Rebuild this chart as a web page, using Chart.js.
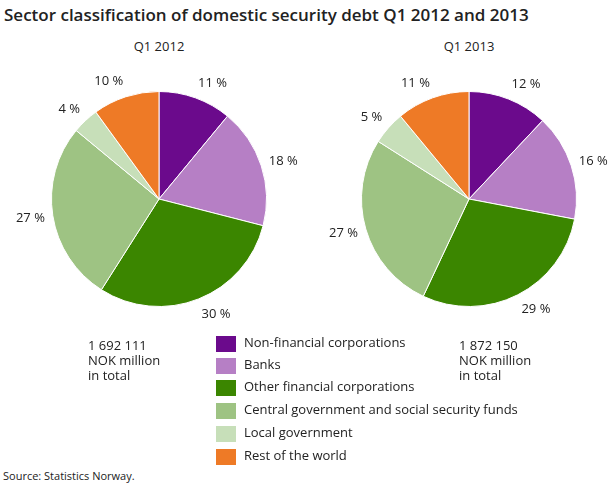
<!DOCTYPE html>
<html>
<head>
<meta charset="utf-8">
<script src="https://cdn.jsdelivr.net/npm/chart.js@4"></script>
<style>
body { margin:0; width:610px; height:488px; font-family:"Open Sans", sans-serif; color:#222; position:relative; background:#fff; }
.abs { position:absolute; }
#title { left:4px; top:3px; font-size:17px; font-weight:600; }
.sub { font-size:13px; width:200px; text-align:center; top:37px; }
.tot { font-size:13px; line-height:15px; top:338px; }
.leg { left:216px; font-size:13px; }
.leg span.box { display:inline-block; width:20px; height:16px; vertical-align:middle; margin-right:8px; }
#src { left:3px; top:468px; font-size:11px; }
canvas { position:absolute; }
</style>
</head>
<body>
<div id="title" class="abs">Sector classification of domestic security debt Q1 2012 and 2013</div>
<div class="abs sub" style="left:59px">Q1 2012</div>
<div class="abs sub" style="left:369px">Q1 2013</div>
<div style="position:absolute;left:9px;top:49px;width:300px;height:300px"><canvas id="c1"></canvas></div>
<div style="position:absolute;left:319px;top:49px;width:300px;height:300px"><canvas id="c2"></canvas></div>
<div class="abs tot" style="left:88px">1 692 111<br>NOK million<br>in total</div>
<div class="abs tot" style="left:459px">1 872 150<br>NOK million<br>in total</div>
<div id="legend"></div>
<div id="src" class="abs">Source: Statistics Norway.</div>
<script>
const sectors = ['Non-financial corporations', 'Banks', 'Other financial corporations',
  'Central government and social security funds', 'Local government', 'Rest of the world'];
const share2012 = [11, 18, 30, 27, 4, 10];
const share2013 = [12, 16, 29, 27, 5, 11];
const colours = ['#6b0a8c', '#b67fc5', '#3b8600', '#9ec383', '#c7dfb9', '#ee7a26'];

// legend in html
var legTop = [333, 355, 377, 400, 423, 446];
var legend = document.getElementById('legend');
sectors.forEach(function (s, i) {
    var d = document.createElement('div');
    d.className = 'abs leg';
    d.style.top = legTop[i] + 'px';
    d.innerHTML = '<span class="box" style="background:' + colours[i] + '"></span>' + s;
    legend.appendChild(d);
});

// percent labels outside each slice
const outLabels = {
    id: 'outLabels',
    afterDatasetsDraw(chart) {
        const ctx = chart.ctx;
        const meta = chart.getDatasetMeta(0);
        ctx.save();
        ctx.font = '13px "Open Sans"';
        ctx.fillStyle = '#222';
        ctx.textBaseline = 'middle';
        meta.data.forEach(function (arc, i) {
            var a = (arc.startAngle + arc.endAngle) / 2;
            var r = arc.outerRadius + 8;
            var x = arc.x + Math.cos(a) * r;
            var y = arc.y + Math.sin(a) * r;
            var c = Math.cos(a);
            ctx.textAlign = c > 0.2 ? 'left' : (c < -0.2 ? 'right' : 'center');
            y += Math.sin(a) * 8;
            ctx.fillText(chart.data.datasets[0].data[i] + ' %', x, y);
        });
        ctx.restore();
    }
};

function drawPie(id, values) {
    new Chart(document.getElementById(id), {
        type: 'pie',
        data: {
            labels: sectors,
            datasets: [{ data: values, backgroundColor: colours, borderColor: '#fff', borderWidth: 1 }]
        },
        options: {
            responsive: true,
            maintainAspectRatio: false,
            animation: false,
            layout: { padding: 42 },
            plugins: { legend: { display: false }, tooltip: { enabled: false } }
        },
        plugins: [outLabels]
    });
}

drawPie('c1', share2012);
drawPie('c2', share2013);
</script>
</body>
</html>
